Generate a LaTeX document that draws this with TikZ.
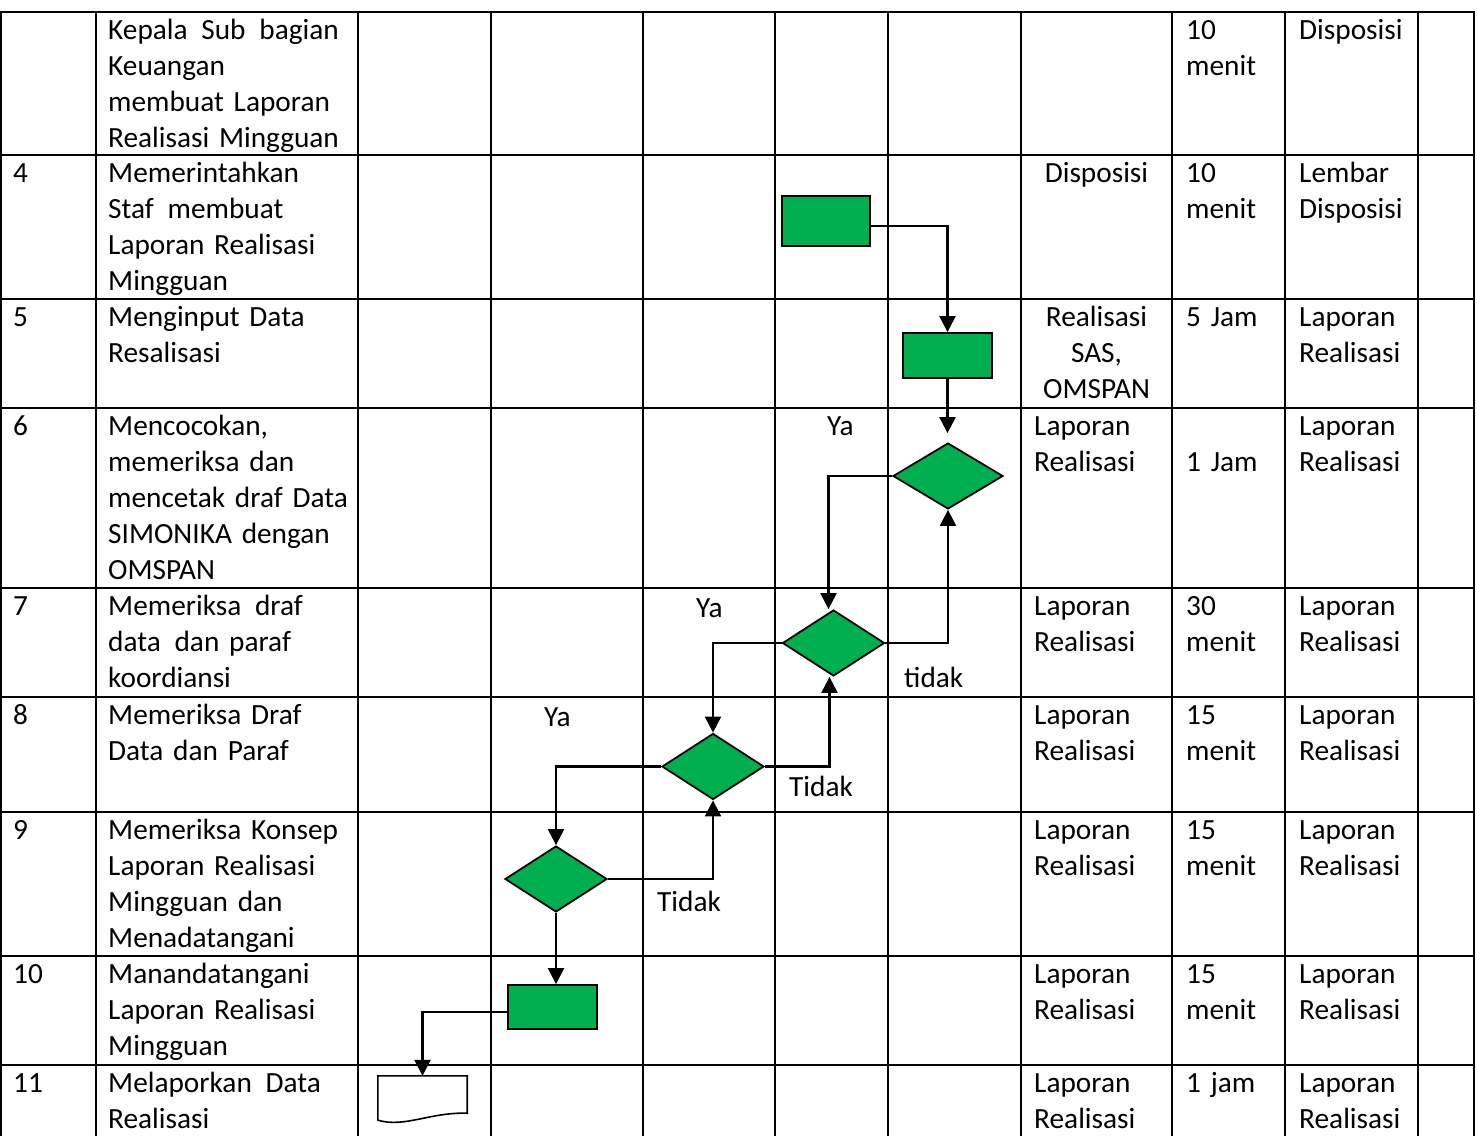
\documentclass[tikz,border=0pt]{standalone}
\usepackage{fontspec}
\setmainfont{Carlito}
\usetikzlibrary{arrows.meta,shapes.geometric}
\definecolor{okgreen}{RGB}{0,176,80}
\newcommand\cf{\fontsize{29.3pt}{36pt}\selectfont}
\newcommand\xs{\hspace{4pt}}
\newcommand\putrow[6]{%
  \node[cell] (num#1) at (13,#2+2) {\strut #3};
  \node[cell] (act#1) at (108,#2+2) {\strut #4};
  \node[cell,text width=110pt] (tim#1) at (1186,#2+2) {\strut #5};
  \node[cell,text width=125pt] (out#1) at (1299,#2+2) {\strut #6};
}
\begin{document}
\begin{tikzpicture}[x=1pt,y=-1pt,
  gridline/.style={line width=2.8pt},
  cell/.style={anchor=north west,inner sep=0pt,text width=250pt,align=left,font=\cf},
  ccell/.style={anchor=north,inner sep=0pt,text width=150pt,align=center,font=\cf},
  lbl/.style={anchor=base west,inner sep=0pt,font=\cf},
  proc/.style={rectangle,draw=black,fill=okgreen,line width=1.8pt,inner sep=0pt},
  dec/.style={diamond,draw=black,fill=okgreen,line width=1.8pt,inner sep=0pt,
              minimum width=102pt,minimum height=66pt},
  flow/.style={line width=2.2pt,-{Triangle[length=16pt,width=16pt]}},
  link/.style={line width=2.2pt}]
\useasboundingbox (0,0) rectangle (1477,1135);
\fill[white] (0,0) rectangle (1477,1135);

% grid
\foreach \yy in {12,155,299,408,588,697,812,956,1065}
  \draw[gridline] (0,\yy) -- (1475,\yy);
\foreach \xx in {1,96,358,491,643,775,888,1021,1172,1285,1418,1474}
  \draw[gridline] (\xx,10.6) -- (\xx,1136);

% rows
\putrow{3}{12}{}{Kepala\xs\ Sub\xs\ bagian\\Keuangan\\membuat Laporan\\Realisasi Mingguan}{10\\menit}{Disposisi}
\putrow{4}{155}{4}{Memerintahkan\\Staf\xs\ membuat\\Laporan Realisasi\\Mingguan}{10\\menit}{Lembar\\Disposisi}
\putrow{5}{299}{5}{Menginput Data\\Resalisasi}{5 Jam}{Laporan\\Realisasi}
\putrow{6}{408}{6}{Mencocokan,\\memeriksa dan\\mencetak draf Data\\SIMONIKA dengan\\OMSPAN}{\\1 Jam}{Laporan\\Realisasi}
\putrow{7}{588}{7}{Memeriksa\xs\ draf\\data\xs\ dan paraf\\koordiansi}{30\\menit}{Laporan\\Realisasi}
\putrow{8}{697}{8}{Memeriksa Draf\\Data dan Paraf}{15\\menit}{Laporan\\Realisasi}
\putrow{9}{812}{9}{Memeriksa Konsep\\Laporan Realisasi\\Mingguan dan\\Menadatangani}{15\\menit}{Laporan\\Realisasi}
\putrow{10}{956}{10}{Manandatangani\\Laporan Realisasi\\Mingguan}{15\\menit}{Laporan\\Realisasi}
\putrow{11}{1065}{11}{Melaporkan\xs\ Data\\Realisasi}{1 jam}{Laporan\\Realisasi}

% input column
\node[ccell] (inp4) at (1096.5,157) {\strut Disposisi};
\node[ccell] (inp5) at (1096.5,301) {\strut Realisasi\\SAS,\\OMSPAN};
\node[cell,text width=135pt] (inp6) at (1034,410) {\strut Laporan\\Realisasi};
\node[cell,text width=135pt] (inp7) at (1034,590) {\strut Laporan\\Realisasi};
\node[cell,text width=135pt] (inp8) at (1034,699) {\strut Laporan\\Realisasi};
\node[cell,text width=135pt] (inp9) at (1034,814) {\strut Laporan\\Realisasi};
\node[cell,text width=135pt] (inp10) at (1034,958) {\strut Laporan\\Realisasi};
\node[cell,text width=135pt] (inp11) at (1034,1067) {\strut Laporan\\Realisasi};

% flow shapes
\node[proc,minimum width=88pt,minimum height=50pt] (r1) at (826,221) {};
\node[proc,minimum width=89pt,minimum height=45pt] (r2) at (947.5,355.5) {};
\node[dec,minimum width=110pt] (d6) at (948,476) {};
\node[dec] (d7) at (833.5,643) {};
\node[dec] (d8) at (713,766.5) {};
\node[dec] (d9) at (556,879) {};
\node[proc,minimum width=89pt,minimum height=44pt] (r3) at (552.5,1007) {};
\node[inner sep=0pt,minimum width=89pt,minimum height=47pt] (doc) at (422.5,1099.5) {};
\draw[line width=1.6pt,fill=white] (doc.north west) -- (doc.north east) -- ([yshift=10pt]doc.south east)
  .. controls (430,1112) and (405,1128) .. ([yshift=3pt]doc.south west) -- cycle;

% connectors
\draw[flow] ([yshift=-5pt]r1.east) -| (r2.north);
\draw[flow,shorten >=9pt] (r2.south) -- (r2.south |- d6.north);
\draw[flow] (d6.west) -| ([xshift=-5pt]d7.north);
\draw[flow] (d7.east) -| (d6.south);
\draw[flow] (d7.west) -| (d8.north);
\draw[flow] (d8.east) -| ([xshift=-4pt]d7.south);
\draw[flow] (d8.west) -| (d9.north);
\draw[flow] (d9.east) -| (d8.south);
\draw[flow] (d9.south) -- (d9.south |- r3.north);
\draw[flow] ([yshift=-5pt]r3.west) -| (doc.north);

% branch labels
\node[lbl] (ya6) at (827,435) {Ya};
\node[lbl] (ya7) at (696,617) {Ya};
\node[lbl] (no7) at (904,687) {tidak};
\node[lbl] (ya8) at (544,726) {Ya};
\node[lbl] (no8) at (789,796) {Tidak};
\node[lbl] (no9) at (657,911) {Tidak};
\end{tikzpicture}
\end{document}
